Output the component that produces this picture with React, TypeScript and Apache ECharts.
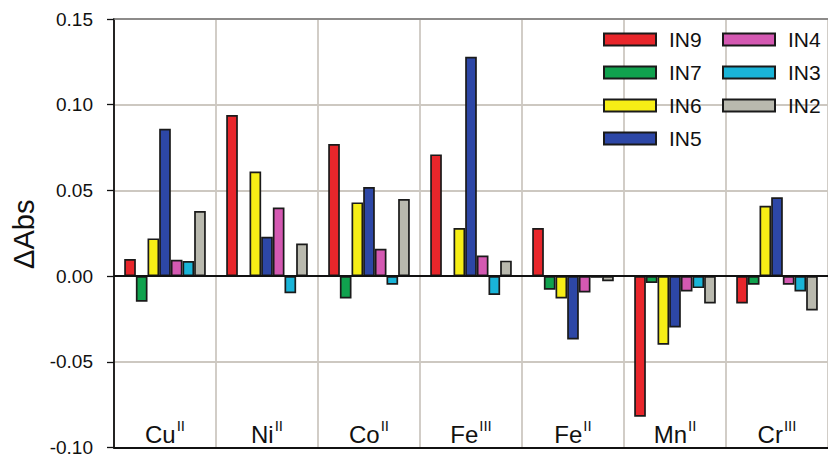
import React, { useEffect, useRef } from "react";
import * as echarts from "echarts";

const categories = ["CuII", "NiII", "CoII", "FeIII", "FeII", "MnII", "CrIII"];
const seriesNames = ["IN9", "IN7", "IN6", "IN5", "IN4", "IN3", "IN2"];
const legendCol1 = ["IN9", "IN7", "IN6", "IN5"];
const legendCol2 = ["IN4", "IN3", "IN2"];

const in9 = [0.01, 0.094, 0.077, 0.071, 0.028, -0.082, -0.016];
const in7 = [-0.015, 0, -0.013, 0, -0.008, -0.004, -0.005];
const in6 = [0.022, 0.061, 0.043, 0.028, -0.013, -0.04, 0.041];
const in5 = [0.086, 0.023, 0.052, 0.128, -0.037, -0.03, 0.046];
const in4 = [0.0095, 0.04, 0.016, 0.012, -0.0095, -0.009, -0.005];
const in3 = [0.0088, -0.01, -0.005, -0.011, -0.001, -0.007, -0.009];
const in2 = [0.038, 0.019, 0.045, 0.009, -0.003, -0.016, -0.02];

const seriesValues = [in9, in7, in6, in5, in4, in3, in2];
const colors = ["#e8262b", "#10a24e", "#f6ee16", "#2d47a6", "#d459b2", "#19b4d8", "#b9b9ae"];

const yMin = -0.1;
const yMax = 0.15;
const yInterval = 0.05;

const FONT = "Liberation Sans, Arial, Helvetica, sans-serif";

export default function App() {
  const ref = useRef<HTMLDivElement>(null);

  useEffect(() => {
    if (!ref.current) return;
    const chart = echarts.init(ref.current, null, { renderer: "svg" });

    const legendCommon = {
      orient: "vertical",
      icon: "rect",
      itemWidth: 52,
      itemHeight: 12,
      itemGap: 12,
      top: 24,
      selectedMode: false,
      textStyle: {
        fontFamily: FONT,
        fontSize: 21,
        lineHeight: 20,
        color: "#111",
        padding: [0, 0, 0, 8],
      },
    };

    const option: any = {
      animation: false,
      backgroundColor: "#ffffff",
      textStyle: { fontFamily: FONT },
      grid: { left: 114, top: 19, right: 0, bottom: 8, containLabel: false },
      legend: [
        { ...legendCommon, left: 598, data: legendCol1 },
        { ...legendCommon, left: 717, data: legendCol2 },
      ],
      xAxis: {
        type: "category",
        data: categories,
        position: "bottom",
        axisLine: { onZero: false, lineStyle: { color: "#111", width: 2 } },
        axisTick: { show: false },
        splitLine: { show: true, interval: 0, lineStyle: { color: "#cdc8c1", width: 1.8 } },
        axisLabel: {
          inside: true,
          margin: 4,
          interval: 0,
          formatter: (v: string) => {
            const m = v.match(/^([A-Z][a-z]?)(I+)$/);
            if (!m) return v;
            return `{b|${m[1]}}{s|${m[2]}}`;
          },
          rich: {
            b: { fontFamily: FONT, fontSize: 24, color: "#111", lineHeight: 26, padding: [7, 1, 0, 0] },
            s: { fontFamily: FONT, fontSize: 15, color: "#111", verticalAlign: "top", lineHeight: 15 },
          },
        },
      },
      yAxis: {
        type: "value",
        min: yMin,
        max: yMax,
        interval: yInterval,
        name: "ΔAbs",
        nameLocation: "middle",
        nameRotate: 90,
        nameGap: 73,
        nameTextStyle: { fontFamily: FONT, fontSize: 29, color: "#111", padding: [0, 2, 0, 0] },
        axisLine: { show: true, lineStyle: { color: "#111", width: 1.8 } },
        axisTick: { show: true, length: 7, lineStyle: { color: "#111", width: 1.3 } },
        splitLine: { show: true, lineStyle: { color: "#cdc8c1", width: 1.8 } },
        axisLabel: {
          margin: 21,
          fontFamily: FONT,
          fontSize: 19,
          color: "#111",
          formatter: (v: number) => (Math.abs(v) < 1e-9 ? "0.00" : v.toFixed(2)),
        },
      },
      series: seriesNames.map((name, i) => ({
        name,
        type: "bar",
        data: seriesValues[i],
        barGap: "0%",
        barCategoryGap: "20%",
        itemStyle: { color: colors[i], borderColor: "#1a1a1a", borderWidth: 1.7 },
        ...(i === 0
          ? {
              markLine: {
                silent: true,
                symbol: "none",
                label: { show: false },
                z: 10,
                data: [
                  { yAxis: 0, lineStyle: { color: "#111", width: 1.8, type: "solid" } },
                  { yAxis: yMax, lineStyle: { color: "#777", width: 1.5, type: "solid" } },
                ],
              },
            }
          : {}),
      })),
    };

    chart.setOption(option);
    return () => chart.dispose();
  }, []);

  return (
    <div
      ref={ref}
      style={{ position: "absolute", left: 0, top: 0, width: 828, height: 457 }}
    />
  );
}
